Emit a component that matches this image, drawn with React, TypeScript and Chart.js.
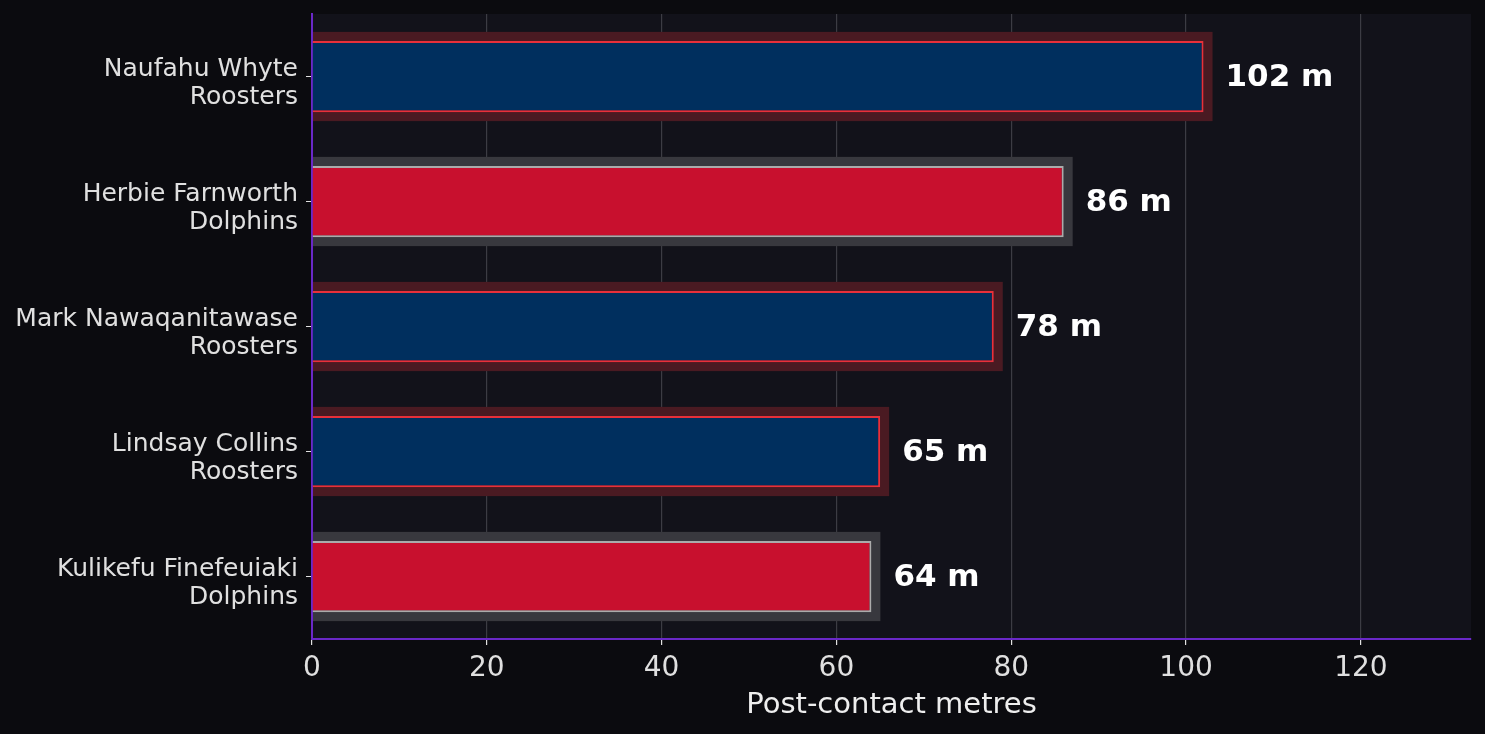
import { useEffect, useRef } from 'react'
import { Chart, registerables } from 'chart.js'
import type { Plugin } from 'chart.js'

Chart.register(...registerables)

const PLAYERS = ['Naufahu Whyte', 'Herbie Farnworth', 'Mark Nawaqanitawase', 'Lindsay Collins', 'Kulikefu Finefeuiaki']
const CLUBS = ['Roosters', 'Dolphins', 'Roosters', 'Roosters', 'Dolphins']
const METRES = [102, 86, 78, 65, 64]
const X_TICKS = [0, 20, 40, 60, 80, 100, 120]

const FIG_BG = '#0b0b0f'
const PLOT_BG = '#12121a'
const SPINE = '#6a28c8'

function clubFill(club: string) {
  return club === 'Roosters' ? '#002f5e' : '#c8102e'
}
function clubEdge(club: string) {
  return club === 'Roosters' ? '#e8303a' : '#ababab'
}
function clubGlow(club: string) {
  return club === 'Roosters' ? '#4a1a22' : '#38383e'
}

// plot background, glow behind each bar, value labels
const glowPlugin: Plugin<'bar'> = {
  id: 'glow',
  beforeDraw(chart) {
    const { ctx, chartArea } = chart
    ctx.save()
    ctx.fillStyle = PLOT_BG
    ctx.fillRect(chartArea.left, chartArea.top, chartArea.right - chartArea.left, chartArea.bottom - chartArea.top)
    ctx.restore()
  },
  beforeDatasetsDraw(chart) {
    const { ctx, chartArea } = chart
    ctx.save()
    ctx.beginPath()
    ctx.rect(chartArea.left + 1, chartArea.top, chartArea.right - chartArea.left - 1, chartArea.bottom - chartArea.top - 1)
    ctx.clip()
    chart.getDatasetMeta(0).data.forEach((el: any, i) => {
      const { x, y, base, height } = el.getProps(['x', 'y', 'base', 'height'], true)
      ctx.fillStyle = clubGlow(CLUBS[i])
      ctx.fillRect(base - 9, y - height / 2 - 9, x - base + 18, height + 18)
    })
    ctx.restore()
  },
  afterDatasetsDraw(chart) {
    const { ctx } = chart
    ctx.save()
    ctx.fillStyle = '#ffffff'
    ctx.font = 'bold 31px "DejaVu Sans"'
    ctx.textBaseline = 'middle'
    ctx.textAlign = 'left'
    chart.getDatasetMeta(0).data.forEach((el: any, i) => {
      ctx.fillText(`${METRES[i]} m`, el.x + 22, el.y + 1)
    })
    ctx.restore()
  },
}

export default function App() {
  const canvasRef = useRef<HTMLCanvasElement>(null)

  useEffect(() => {
    if (!canvasRef.current) return
    const chart = new Chart(canvasRef.current, {
      type: 'bar',
      data: {
        labels: PLAYERS.map((p, i) => [p, CLUBS[i]]),
        datasets: [{
          data: METRES,
          backgroundColor: CLUBS.map(clubFill),
          borderColor: CLUBS.map(clubEdge),
          borderWidth: 2,
          borderSkipped: 'start',
          barPercentage: 0.57,
          categoryPercentage: 1,
        }],
      },
      options: {
        indexAxis: 'y',
        animation: false,
        responsive: false,
        devicePixelRatio: 1,
        layout: { padding: { top: 14, right: 14, left: 0, bottom: 0 } },
        plugins: {
          legend: { display: false },
          tooltip: { enabled: false },
        },
        scales: {
          x: {
            min: 0,
            max: 132.6,
            afterBuildTicks: (axis) => { axis.ticks = X_TICKS.map((v) => ({ value: v })) },
            afterFit: (axis: any) => { axis.height = 95; axis.paddingLeft = 0; axis.paddingRight = 0 },
            ticks: { color: '#e0e0e0', font: { family: 'DejaVu Sans', size: 28 }, padding: 7 },
            grid: { color: '#3c3c44', lineWidth: 1.2, tickColor: '#e0e0e0', tickLength: 6 },
            border: { color: SPINE, width: 2 },
            title: {
              display: true,
              text: 'Post-contact metres',
              color: '#eeeeee',
              font: { family: 'DejaVu Sans', size: 29 },
              padding: { top: 0, bottom: 11 },
            },
          },
          y: {
            afterFit: (axis: any) => { axis.width = 312; axis.paddingTop = 0; axis.paddingBottom = 0 },
            ticks: {
              color: '#e0e0e0',
              font: { family: 'DejaVu Sans', size: 25, lineHeight: 1.12 },
              padding: 8,
              labelOffset: 7,
            },
            grid: { drawOnChartArea: false, offset: false, tickColor: '#e0e0e0', tickLength: 6 },
            border: { color: SPINE, width: 2 },
          },
        },
      },
      plugins: [glowPlugin],
    })
    return () => chart.destroy()
  }, [])

  return (
    <div style={{ position: 'fixed', inset: 0, background: FIG_BG }}>
      <canvas ref={canvasRef} width={1485} height={734} style={{ display: 'block' }} />
    </div>
  )
}
